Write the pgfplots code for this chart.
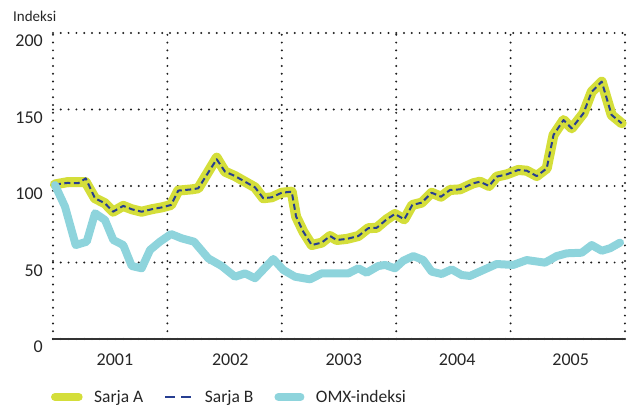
\documentclass[border=0pt]{standalone}
\usepackage{pgfplots}
\pgfplotsset{compat=1.18}
\usepackage{pgfplotstable}
\usepackage{fontspec}
\setmainfont{Carlito}
\definecolor{ylw}{RGB}{212,222,58}
\definecolor{cyn}{RGB}{142,212,220}
\definecolor{blu}{RGB}{38,62,145}
\definecolor{grd}{RGB}{30,30,30}

\pgfplotstableread{
m v
0.2 101
1.5 102.5
2.65 102.5
3.43 102.5
4.4 92
5.45 88.7
6.3 83.2
7.37 87
8.26 84.8
9.3 83.2
10.35 84.8
11.4 86
12.38 87.6
13.14 97
14.55 97.8
15.24 98.5
17.17 118.5
18.04 109.4
19.09 106.5
20.14 102.8
21.19 99.1
22.06 92
22.94 92.6
23.99 95.6
25.04 96.3
25.5 80
26.26 70.1
27.14 61.4
28.19 63
29.06 67.3
29.76 64.7
30.8 65.4
32.03 67.3
33.07 72.4
33.96 72.7
35 78.2
35.87 81.7
36.85 78.2
37.69 87.6
38.67 89.1
39.72 95.6
40.7 93
41.64 97.4
42.69 97.8
44.09 101.8
44.79 102.8
45.74 100
46.54 106.1
47.59 107.6
48.81 110.5
49.69 110
50.74 106.5
51.79 111.5
52.5 133.3
53.55 143.1
54.41 137.7
55.64 147.5
56.51 161.6
57.56 168.2
58.6 146.4
59.65 141
}\sarjaA

\pgfplotstableread{
m v
0.2 101
1.5 102
2.65 101.8
3.43 105
4.4 92
5.45 88.7
6.3 83.2
7.37 87
8.26 84.8
9.3 83.2
10.35 84.8
11.4 86
12.38 87.6
13.14 97
14.55 97.8
15.24 98.5
17.17 117.5
18.04 109.4
19.09 106.5
20.14 102.8
21.19 99.1
22.06 92
22.94 92.6
23.99 95.6
25.04 96.3
25.5 80
26.26 70.1
27.14 61.4
28.19 63
29.06 67.3
29.76 64.7
30.8 65.4
32.03 67.3
33.07 72.4
33.96 72.7
35 78.2
35.87 81.7
36.85 78.2
37.69 87.6
38.67 89.1
39.72 95.6
40.7 93
41.64 97.4
42.69 97.8
44.09 101.8
44.79 102.8
45.74 100
46.54 106.1
47.59 107.6
48.81 110.5
49.69 110
50.74 106.5
51.79 111.5
52.5 133.3
53.55 143.1
54.41 137.7
55.64 147.5
56.51 161.6
57.56 168.2
58.6 146.4
59.65 141
}\sarjaB

\pgfplotstableread{
m v
0.21 100.6
1.26 86.5
2.38 61.4
3.54 63.6
4.41 82.2
5.45 77.8
6.33 64.7
7.37 61.4
8.26 47.7
9.3 46.2
10.18 58.2
11.22 63.6
12.38 68.6
13.5 65.8
14.8 63.6
16.29 52.7
17.7 47.7
19.09 40.7
20.14 42.9
21.19 39.7
23.11 52.3
24.16 45.1
25.39 40.7
26.96 39
28.19 42.9
29.58 42.9
30.98 42.9
32.03 46.2
32.9 43.3
34.12 47.7
34.83 48.4
35.87 46.2
36.75 51.2
37.8 54.2
38.84 51.6
39.72 44
40.77 42.5
41.82 45.5
42.87 41.8
43.74 41.2
45.14 45.1
46.54 49
48.28 48.4
49.69 51.6
51.61 49.9
52.84 54.2
53.89 56
55.46 56.4
56.51 61.4
57.56 57.7
58.43 59.3
59.48 63
}\omx

\begin{document}
\begin{tikzpicture}
\useasboundingbox (-53pt,-68pt) rectangle (574pt,339pt);
\begin{axis}[
  scale only axis,
  width=572pt, height=306pt,
  xmin=0, xmax=60, ymin=0, ymax=200,
  enlargelimits=false,
  clip=false,
  separate axis lines,
  axis x line*=bottom,
  axis y line*=left,
  y axis line style={draw=none},
  x axis line style={line width=1.4pt, color=black!80, -},
  xtick={0,12,24,36,48,60},
  xticklabels={},
  extra x ticks={6.5,18.6,30.5,42.4,54.3},
  extra x tick labels={2001,2002,2003,2004,2005},
  extra x tick style={grid=none, tick label style={anchor=north, inner sep=0pt, yshift=-15pt}},
  ytick={0,50,100,150,200},
  yticklabel style={anchor=north east, inner sep=0pt, xshift=-10pt, yshift=-2pt},
  /pgf/number format/assume math mode=true,
  ticklabel style={font=\fontsize{18}{20}\selectfont, color=black!85},
  major tick length=0pt,
  xmajorgrids, ymajorgrids,
  grid style={color=grd, line width=2.2pt, line cap=round, dash pattern=on 0pt off 7.8pt},
  legend columns=3,
  legend style={at={(axis description cs:-0.0035,-0.1895)}, anchor=west, draw=none, fill=none,
    inner sep=0pt, outer sep=0pt, font=\fontsize{17.5}{19}\selectfont,
    nodes={inner sep=0pt, text=black!85},
    /tikz/every odd column/.append style={column sep=11.5pt},
    /tikz/every even column/.append style={column sep=21pt}},
]
\addplot[ylw, line width=10pt, line cap=round, line join=round,
  legend image code/.code={\path[draw=none, fill=none] (0pt,-5pt) rectangle (31.7pt,5pt); \draw[ylw, line width=8pt, line cap=round] (4pt,0pt) -- (27.7pt,0pt);}]
  table[x=m,y=v] {\sarjaA};
\addlegendentry{Sarja A}
\addplot[blu, line width=2pt, dash pattern=on 6pt off 3.5pt, line join=round,
  legend image code/.code={\path[draw=none, fill=none] (0pt,-5pt) rectangle (27pt,5pt); \draw[blu, line width=2pt, dash pattern=on 10pt off 6pt] (0pt,0pt) -- (27pt,0pt);}]
  table[x=m,y=v] {\sarjaB};
\addlegendentry{Sarja B}
\addplot[cyn, line width=8pt, line cap=round, line join=round,
  legend image code/.code={\path[draw=none, fill=none] (0pt,-5pt) rectangle (30pt,5pt); \draw[cyn, line width=8pt, line cap=round] (4pt,0pt) -- (26pt,0pt);}]
  table[x=m,y=v] {\omx};
\addlegendentry{OMX-indeksi}
\end{axis}
\node[anchor=north west, inner sep=0pt, font=\fontsize{15}{17}\selectfont, text=black!85] at (-40pt,328pt) {Indeksi};
\end{tikzpicture}
\end{document}
